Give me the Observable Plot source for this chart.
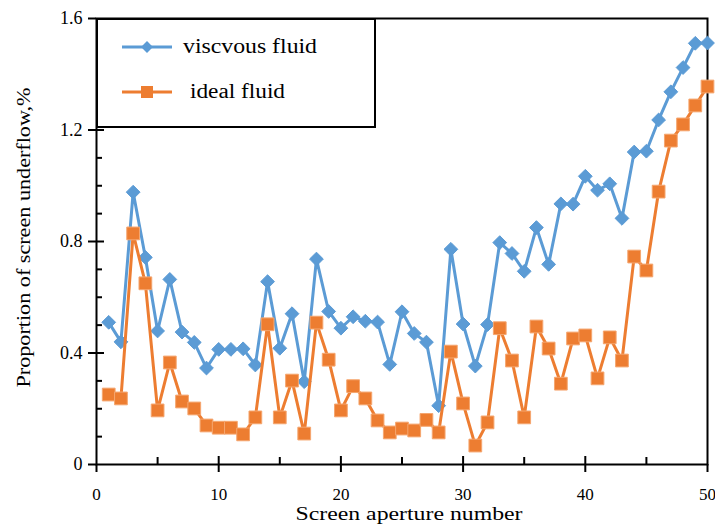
<!DOCTYPE html>
<html>
<head>
<meta charset="utf-8">
<script src="https://cdn.jsdelivr.net/npm/d3@7"></script>
<script src="https://cdn.jsdelivr.net/npm/@observablehq/plot@0.6"></script>
<style>
  html, body { margin: 0; padding: 0; background: #fff; }
  #wrap { position: relative; width: 715px; height: 529px; }
  #legend { position: absolute; left: 0; top: 0; }
</style>
</head>
<body>
<div id="wrap"></div>
<script>
// ---- data ----
const aperture = [1,2,3,4,5,6,7,8,9,10,11,12,13,14,15,16,17,18,19,20,21,22,23,24,25,26,27,28,29,30,31,32,33,34,35,36,37,38,39,40,41,42,43,44,45,46,47,48,49,50];
const viscous = [0.51,0.44,0.977,0.743,0.479,0.664,0.475,0.438,0.346,0.413,0.413,0.415,0.357,0.656,0.417,0.541,0.297,0.737,0.549,0.489,0.530,0.514,0.511,0.359,0.548,0.470,0.439,0.211,0.772,0.504,0.353,0.502,0.796,0.757,0.693,0.850,0.718,0.935,0.934,1.034,0.984,1.007,0.883,1.121,1.124,1.236,1.337,1.424,1.511,1.512];
const ideal = [0.251,0.237,0.829,0.650,0.194,0.366,0.226,0.201,0.140,0.132,0.132,0.108,0.169,0.503,0.169,0.301,0.111,0.509,0.376,0.194,0.281,0.237,0.158,0.115,0.129,0.122,0.160,0.115,0.405,0.219,0.068,0.151,0.489,0.373,0.169,0.495,0.416,0.290,0.452,0.463,0.309,0.456,0.373,0.746,0.696,0.979,1.162,1.220,1.288,1.356];
const seriesNames = ["viscvous fluid", " ideal fluid"];
const xMajor = [0,10,20,30,40,50];
const xMinor = [5,15,25,35,45];
const yMajor = [0,0.4,0.8,1.2,1.6];
const yMinor = [0.1,0.2,0.3,0.5,0.6,0.7,0.9,1.0,1.1,1.3,1.4,1.5];
const xTitle = "Screen aperture number";
const yTitle = "Proportion of screen underflow,%";

const blue = "#5B9BD5", orange = "#ED7D31";
const font = "'Liberation Serif', 'Times New Roman', serif";

const vData = aperture.map((a, i) => ({x: a, y: viscous[i]}));
const iData = aperture.map((a, i) => ({x: a, y: ideal[i]}));

const chart = Plot.plot({
  width: 715, height: 529,
  marginLeft: 96, marginRight: 8, marginTop: 18, marginBottom: 65,
  x: {domain: [0, 50]},
  y: {domain: [0, 1.6]},
  style: {fontFamily: font, fontSize: "18px", color: "#000", background: "#fff"},
  marks: [
    Plot.frame({stroke: "#000", strokeWidth: 2}),
    // x axis labels + ticks
    Plot.axisX({ticks: xMajor, tickSize: 0, tickPadding: 23, label: null, fontSize: 17}),
    Plot.axisX({ticks: xMajor, tickSize: 8, tickFormat: () => "", label: null, strokeWidth: 2}),
    Plot.axisX({ticks: xMajor.slice(1, -1), tickSize: -8, tickFormat: () => "", label: null, strokeWidth: 2}),
    Plot.axisX({ticks: xMinor, tickSize: -7, tickFormat: () => "", label: null, strokeWidth: 2}),
    // y axis
    Plot.axisY({ticks: yMajor, tickSize: 0, tickPadding: 14, label: null, fontSize: 18,
      tickFormat: d => d === 0 ? "0" : d.toFixed(1)}),
    Plot.axisY({ticks: yMajor, tickSize: 8, tickFormat: () => "", label: null, strokeWidth: 2}),
    Plot.axisY({ticks: yMajor.slice(1, -1), tickSize: -8, tickFormat: () => "", label: null, strokeWidth: 2}),
    Plot.axisY({ticks: yMinor, tickSize: -6, tickFormat: () => "", label: null, strokeWidth: 2}),
    // titles
    Plot.text([xTitle], {text: d => d, frameAnchor: "bottom", dx: 7, dy: 55, fontSize: 18, fill: "#000", textAnchor: "middle"}),
    Plot.text([yTitle], {text: d => d, frameAnchor: "left", dx: -73, dy: -4, rotate: -90, fontSize: 19, fill: "#000", textAnchor: "middle"}),
    // series
    Plot.line(vData, {x: "x", y: "y", stroke: blue, strokeWidth: 3}),
    Plot.dot(vData, {x: "x", y: "y", symbol: "diamond2", r: 6.2, fill: blue, stroke: blue, strokeWidth: 1}),
    Plot.line(iData, {x: "x", y: "y", stroke: orange, strokeWidth: 3}),
    Plot.dot(iData, {x: "x", y: "y", symbol: "square", r: 7.2, fill: orange, stroke: "#F5A66F", strokeWidth: 1})
  ]
});

// stretch titles to the widths seen in the reference
d3.select(chart).selectAll("text").each(function() {
  const t = this.textContent;
  if (t === xTitle) d3.select(this).attr("textLength", 227).attr("lengthAdjust", "spacingAndGlyphs");
  if (t === yTitle) d3.select(this).attr("textLength", 300).attr("lengthAdjust", "spacingAndGlyphs");
});

const wrap = document.getElementById("wrap");
wrap.appendChild(chart);

// legend overlay (box inside plot top-left)
const lg = d3.select(wrap).append("svg")
  .attr("id", "legend").attr("width", 715).attr("height", 529)
  .style("pointer-events", "none");
lg.append("rect").attr("x", 97).attr("y", 19).attr("width", 278).attr("height", 108)
  .attr("fill", "#fff").attr("stroke", "#000").attr("stroke-width", 2);
const entries = [
  {name: seriesNames[0], color: blue, sym: "diamond", y: 47, tx: 183, len: 134},
  {name: seriesNames[1].trim(), color: orange, sym: "square", y: 92, tx: 190, len: 95}
];
entries.forEach(e => {
  lg.append("line").attr("x1", 122).attr("x2", 172).attr("y1", e.y).attr("y2", e.y)
    .attr("stroke", e.color).attr("stroke-width", 3);
  if (e.sym === "diamond") {
    lg.append("path").attr("d", d3.symbol(d3.symbolDiamond2, 90)()).attr("transform", `translate(147,${e.y})`)
      .attr("fill", e.color);
  } else {
    lg.append("rect").attr("x", 141).attr("y", e.y - 6).attr("width", 12).attr("height", 12).attr("fill", e.color);
  }
  lg.append("text").attr("x", e.tx).attr("y", e.y + 6).attr("font-family", font).attr("font-size", 20)
    .attr("textLength", e.len).attr("lengthAdjust", "spacingAndGlyphs")
    .attr("fill", "#000").text(e.name);
});
</script>
</body>
</html>
